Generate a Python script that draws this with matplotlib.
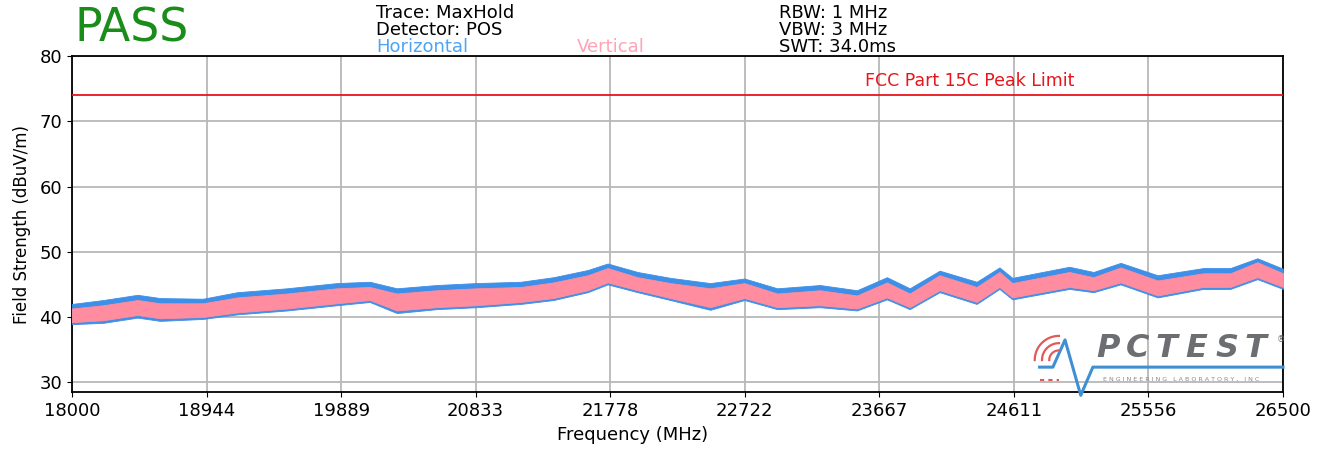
import matplotlib
matplotlib.use("Agg")
import matplotlib.pyplot as plt
import numpy as np

freq = [18000, 18220, 18460, 18620, 18920, 19160, 19510, 19860, 20090, 20280,
        20560, 20840, 21150, 21380, 21620, 21760, 21970, 22200, 22480, 22720,
        22950, 23250, 23510, 23720, 23880, 24090, 24350, 24510, 24600, 25000,
        25170, 25360, 25620, 25940, 26130, 26320, 26500]
vert_hi = [41.3, 41.8, 42.6, 42.1, 42.1, 43.0, 43.6, 44.4, 44.6, 43.6,
           44.1, 44.4, 44.6, 45.3, 46.4, 47.5, 46.1, 45.2, 44.4, 45.2,
           43.6, 44.1, 43.3, 45.3, 43.6, 46.4, 44.6, 46.9, 45.2, 46.9,
           46.1, 47.6, 45.6, 46.7, 46.7, 48.4, 46.7]
vert_lo = [39.2, 39.5, 40.3, 39.8, 40.0, 40.7, 41.3, 42.1, 42.6, 41.0,
           41.5, 41.8, 42.3, 42.9, 44.1, 45.3, 44.1, 42.9, 41.5, 42.9,
           41.5, 41.8, 41.3, 43.0, 41.5, 44.1, 42.3, 44.6, 43.0, 44.6,
           44.1, 45.3, 43.3, 44.6, 44.6, 46.1, 44.6]
horiz_hi = [42.0, 42.6, 43.4, 42.9, 42.8, 43.8, 44.4, 45.2, 45.4, 44.4,
            44.9, 45.2, 45.4, 46.1, 47.2, 48.2, 46.9, 46.0, 45.2, 45.9,
            44.4, 44.9, 44.1, 46.1, 44.4, 47.1, 45.4, 47.6, 46.0, 47.7,
            46.9, 48.3, 46.4, 47.5, 47.5, 49.0, 47.4]
horiz_lo = [38.9, 39.1, 39.9, 39.4, 39.7, 40.4, 41.0, 41.8, 42.3, 40.6,
            41.2, 41.5, 42.0, 42.6, 43.8, 45.0, 43.8, 42.6, 41.1, 42.6,
            41.2, 41.5, 41.0, 42.7, 41.2, 43.8, 42.0, 44.3, 42.7, 44.3,
            43.8, 45.0, 43.0, 44.3, 44.3, 45.8, 44.3]

limit_db = 74
xticks = [18000, 18944.4, 19888.9, 20833.3, 21777.8, 22722.2, 23666.7,
          24611.1, 25555.6, 26500]
xtick_labels = ["18000", "18944", "19889", "20833", "21778", "22722",
                "23667", "24611", "25556", "26500"]
yticks = [30, 40, 50, 60, 70, 80]

blue = "#3d8fe8"
pink = "#ff8c9f"

fig = plt.figure(figsize=(13.25, 4.49), dpi=100)
ax = fig.add_axes([0.0543, 0.127, 0.914, 0.748])

ax.fill_between(freq, horiz_lo, horiz_hi, color=blue, lw=0.6, zorder=3)
ax.fill_between(freq, vert_lo, vert_hi, color=pink, lw=0.6, zorder=4)
ax.axhline(limit_db, color="#e8151b", lw=1.3, zorder=5)
ax.text(0.741, 0.925, "FCC Part 15C Peak Limit", transform=ax.transAxes,
        color="#e8151b", fontsize=12.5, ha="center", va="center")

ax.set_xlim(18000, 26500)
ax.set_ylim(28.5, 80)
ax.set_xticks(xticks)
ax.set_xticklabels(xtick_labels, fontsize=13)
ax.set_yticks(yticks)
ax.tick_params(axis="y", labelsize=13)
ax.grid(True, color="#b8b8b8", lw=1.3)
ax.set_axisbelow(True)
for s in ax.spines.values():
    s.set_linewidth(1.3)
ax.set_xlabel("Frequency (MHz)", fontsize=13, labelpad=1)
ax.xaxis.set_label_coords(0.463, -0.1)
ax.set_ylabel("Field Strength (dBuV/m)", fontsize=12, labelpad=6)

# header text
fig.text(0.056, 0.935, "PASS", color="#1a8c1a", fontsize=33, va="center")
hs = 13
fig.text(0.284, 0.97, "Trace: MaxHold", fontsize=hs, va="center")
fig.text(0.284, 0.933, "Detector: POS", fontsize=hs, va="center")
fig.text(0.284, 0.896, "Horizontal", fontsize=hs, va="center", color="#4da3f5")
fig.text(0.435, 0.896, "Vertical", fontsize=hs, va="center", color="#ffa3b5")
fig.text(0.588, 0.97, "RBW: 1 MHz", fontsize=hs, va="center")
fig.text(0.588, 0.933, "VBW: 3 MHz", fontsize=hs, va="center")
fig.text(0.588, 0.896, "SWT: 34.0ms", fontsize=hs, va="center")

# logo
lx = [0.799, 0.81, 0.82, 0.833, 0.843, 1.0]
ly = [0.074, 0.074, 0.155, -0.01, 0.074, 0.074]
ax.plot(lx, ly, transform=ax.transAxes, color="#3f8fd2", lw=2.2,
        clip_on=False, zorder=6)
ax.plot([0.799, 0.815], [0.036, 0.036], transform=ax.transAxes,
        color="#e05a5a", lw=1.5, ls=(0, (2, 2)), zorder=6)
for r in [0.008, 0.014, 0.02]:
    t = np.linspace(np.pi * 0.5, np.pi * 1.0, 20)
    ax.plot(0.815 + r * np.cos(t), 0.095 + r * 3.6 * np.sin(t),
            transform=ax.transAxes, color="#e05a5a", lw=1.6, zorder=6)
for i, ch in enumerate("PCTEST"):
    ax.text(0.846 + i * 0.0245, 0.13, ch, transform=ax.transAxes,
            fontsize=23, fontweight="bold", fontstyle="italic",
            color="#6d6e71", va="center", zorder=6)
ax.text(0.995, 0.155, "\u00ae", transform=ax.transAxes, fontsize=6,
        color="#6d6e71", va="center", zorder=6)
ax.text(0.851, 0.038, "E N G I N E E R I N G   L A B O R A T O R Y ,   I N C",
        transform=ax.transAxes, fontsize=4.6, color="#8a8a8a", va="center",
        zorder=6)

fig.savefig("out.png", dpi=100)
